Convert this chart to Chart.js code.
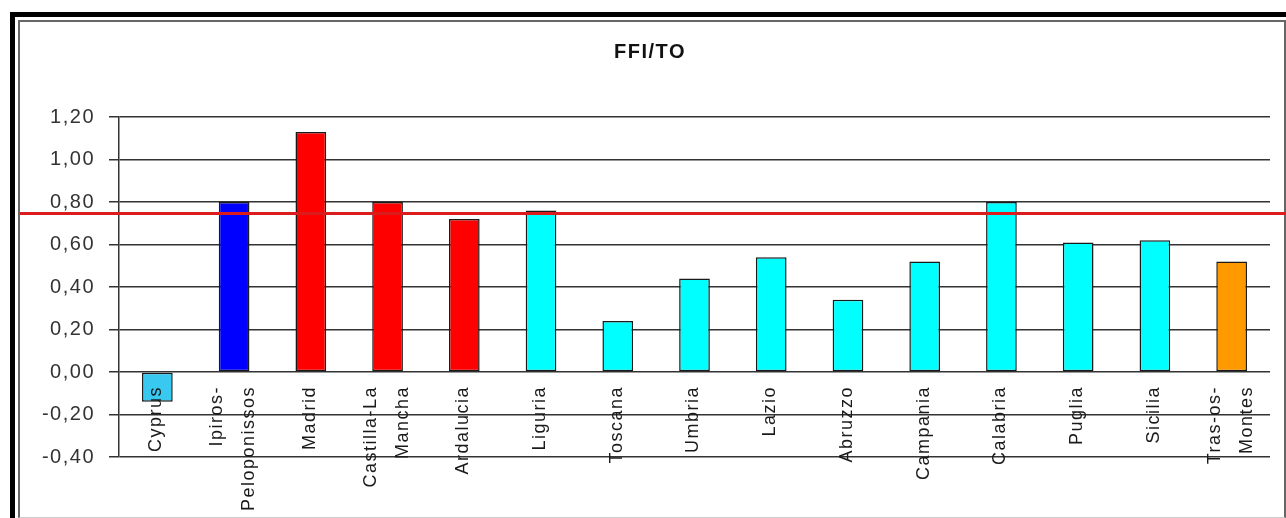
<!DOCTYPE html>
<html>
<head>
<meta charset="utf-8">
<title>FFI/TO</title>
<script src="https://cdn.jsdelivr.net/npm/chart.js@4.4.1/dist/chart.umd.min.js"></script>
<style>
  html,body{margin:0;padding:0;background:#fff;overflow:hidden;}
  .frame-outer{position:absolute;left:10px;top:12px;width:1400px;height:600px;border-left:5px solid #000;border-top:5px solid #000;}
  .frame-inner{position:absolute;left:18px;top:20px;width:1264px;height:495px;border:2px solid #666;border-bottom:1px solid #ccc;}
  .wrap{position:absolute;left:0;top:0;width:1286px;height:518px;}
</style>
</head>
<body>
<div class="frame-outer"></div>
<div class="frame-inner"></div>
<div class="wrap"><canvas id="ch-ffi"></canvas></div>
<script>
/* FFI/TO per region, with the 0,75 reference level */
const regions=[['Cyprus'],['Ipiros-','Peloponissos'],['Madrid'],['Castilla-La','Mancha'],['Ardalucia'],
    ['Liguria'],['Toscana'],['Umbria'],['Lazio'],['Abruzzo'],['Campania'],['Calabria'],['Puglia'],['Sicilia'],['Tras-os-','Montes']];
const ffiTo=[-0.14,0.80,1.13,0.80,0.72,0.76,0.24,0.44,0.54,0.34,0.52,0.80,0.61,0.62,0.52];
const barColors=['#38c8f0','#0000ff','#ff0000','#ff0000','#ff0000','#00ffff','#00ffff','#00ffff','#00ffff','#00ffff','#00ffff','#00ffff','#00ffff','#00ffff','#ff9900'];
const refLevel=0.75;
const yMin=-0.4, yMax=1.2, yStep=0.2;

const FONT='"Liberation Sans", Arial, sans-serif';

function fmtComma(v) {
    if (Math.abs(v)<1e-9) v=0;
    return v.toFixed(2).replace('.',',');
}

// all text in this chart is slightly spaced out
const spacing={
    id:'spacing',
    beforeDraw(chart){ chart.ctx.letterSpacing='1.5px'; }
};

// horizontal reference line, runs across the whole frame
const refLine={
    id:'refLine',
    afterDatasetsDraw(chart){
        const {ctx,scales:{y}}=chart;
        const py=Math.round(y.getPixelForValue(refLevel))+0.5;
        ctx.save();
        ctx.strokeStyle='#dc1c1c';
        ctx.lineWidth=3;
        ctx.beginPath();
        ctx.moveTo(20,py);
        ctx.lineTo(chart.width,py);
        ctx.stroke();
        ctx.restore();
    }
};

// vertical category names hanging just under the zero line
const catLabels={
    id:'catLabels',
    afterDatasetsDraw(chart){
        const {ctx,scales:{x,y}}=chart;
        const top=y.getPixelForValue(0)+14;
        ctx.save();
        ctx.font='18px '+FONT;
        ctx.fillStyle='#1a1a1a';
        ctx.textAlign='right';
        ctx.textBaseline='middle';
        regions.forEach((lines,i)=>{
            const cx=x.getPixelForValue(i);
            lines.forEach((line,j)=>{
                const off=(j-(lines.length-1)/2)*32;
                ctx.save();
                ctx.translate(cx+off-1,top);
                ctx.rotate(-Math.PI/2);
                ctx.fillText(line,0,0);
                ctx.restore();
            });
        });
        ctx.restore();
    }
};

new Chart(document.getElementById('ch-ffi').getContext('2d'),{
    type:'bar',
    data:{
        labels:regions,
        datasets:[{
            data:ffiTo,
            backgroundColor:barColors,
            borderColor:'#1a1a1a',
            borderWidth:1.5,
            borderSkipped:false,
            barPercentage:0.4,
            categoryPercentage:1
        }]
    },
    options:{
        responsive:true,
        maintainAspectRatio:false,
        animation:false,
        layout:{padding:{left:30,right:16,top:0,bottom:61}},
        plugins:{
            legend:{display:false},
            tooltip:{enabled:false},
            title:{display:true,text:'FFI/TO',color:'#111',font:{family:FONT,size:20,weight:'bold'},padding:{top:40,bottom:53}}
        },
        scales:{
            x:{display:false,offset:true},
            y:{
                min:yMin,max:yMax,
                afterFit:s=>{s.width=89;},
                ticks:{stepSize:yStep,color:'#333',padding:14,font:{family:FONT,size:20},callback:v=>fmtComma(v)},
                grid:{color:'#333',lineWidth:1.5,tickLength:10},
                border:{color:'#333',width:1.5}
            }
        }
    },
    plugins:[spacing,refLine,catLabels]
});
</script>
</body>
</html>
